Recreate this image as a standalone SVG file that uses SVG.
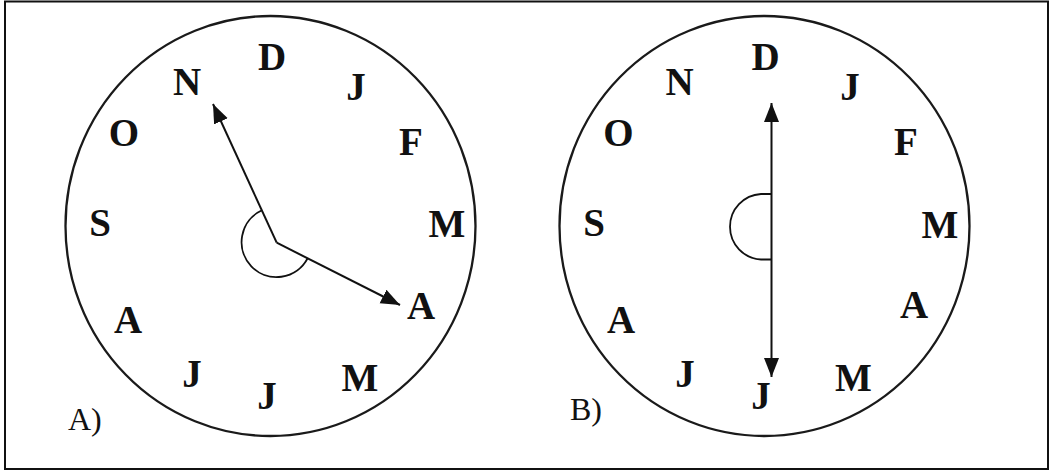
<svg xmlns="http://www.w3.org/2000/svg" width="1053" height="475" viewBox="0 0 1053 475">
<style>
.face{fill:none;stroke:#1a1a1a;stroke-width:2.3}
.m{font-family:"Liberation Serif","Times New Roman",serif;font-weight:bold;font-size:39px;fill:#111;text-anchor:middle}
.lbl{font-family:"Liberation Serif","Times New Roman",serif;font-size:32px;fill:#111}
.hand{fill:none;stroke:#111;stroke-width:2}
.arc{fill:none;stroke:#111;stroke-width:1.8}
</style>
<defs>
<marker id="ah" markerUnits="userSpaceOnUse" markerWidth="20" markerHeight="16" refX="19" refY="7.5" orient="auto-start-reverse">
<path d="M0,0 L19,7.5 L0,15 z" fill="#111"/>
</marker>
</defs>
<rect x="5" y="1.5" width="1043" height="467.5" fill="#fff" stroke="#111" stroke-width="2"/>
<g id="clockA">
<ellipse class="face" cx="270.5" cy="226" rx="205" ry="210"/>
<text class="m" x="272" y="70">D</text>
<text class="m" x="187" y="95">N</text>
<text class="m" x="356" y="100">J</text>
<text class="m" x="124" y="146">O</text>
<text class="m" x="411" y="155">F</text>
<text class="m" x="100" y="236">S</text>
<text class="m" x="447" y="237">M</text>
<text class="m" x="421" y="319">A</text>
<text class="m" x="128" y="333">A</text>
<text class="m" x="192" y="387">J</text>
<text class="m" x="267" y="409">J</text>
<text class="m" x="360" y="391">M</text>
<text class="lbl" x="68" y="430">A)</text>
</g>
<g id="clockB">
<ellipse class="face" cx="764.5" cy="226" rx="205" ry="210"/>
<text class="m" x="765.5" y="70">D</text>
<text class="m" x="679.5" y="95">N</text>
<text class="m" x="850" y="100">J</text>
<text class="m" x="618.5" y="146">O</text>
<text class="m" x="906" y="155">F</text>
<text class="m" x="594" y="236">S</text>
<text class="m" x="940" y="238">M</text>
<text class="m" x="914" y="318">A</text>
<text class="m" x="621" y="333">A</text>
<text class="m" x="685" y="387">J</text>
<text class="m" x="761" y="409">J</text>
<text class="m" x="853.5" y="391">M</text>
<text class="lbl" x="570" y="420">B)</text>
</g>
<g id="connectors">
<path class="hand" d="M276.7,242.7 L213,104" marker-end="url(#ah)"/>
<path class="hand" d="M276.7,242.7 L400,305" marker-end="url(#ah)"/>
<path class="arc" d="M307.5,258.5 A35,35 0 1 1 261.5,210.5"/>
<path class="hand" d="M771.5,103 L771.5,377" marker-start="url(#ah)" marker-end="url(#ah)"/>
<path class="arc" d="M771.5,194 H761 A32.8,32.8 0 0 0 761,259.5 H771.5"/>
</g>
</svg>
